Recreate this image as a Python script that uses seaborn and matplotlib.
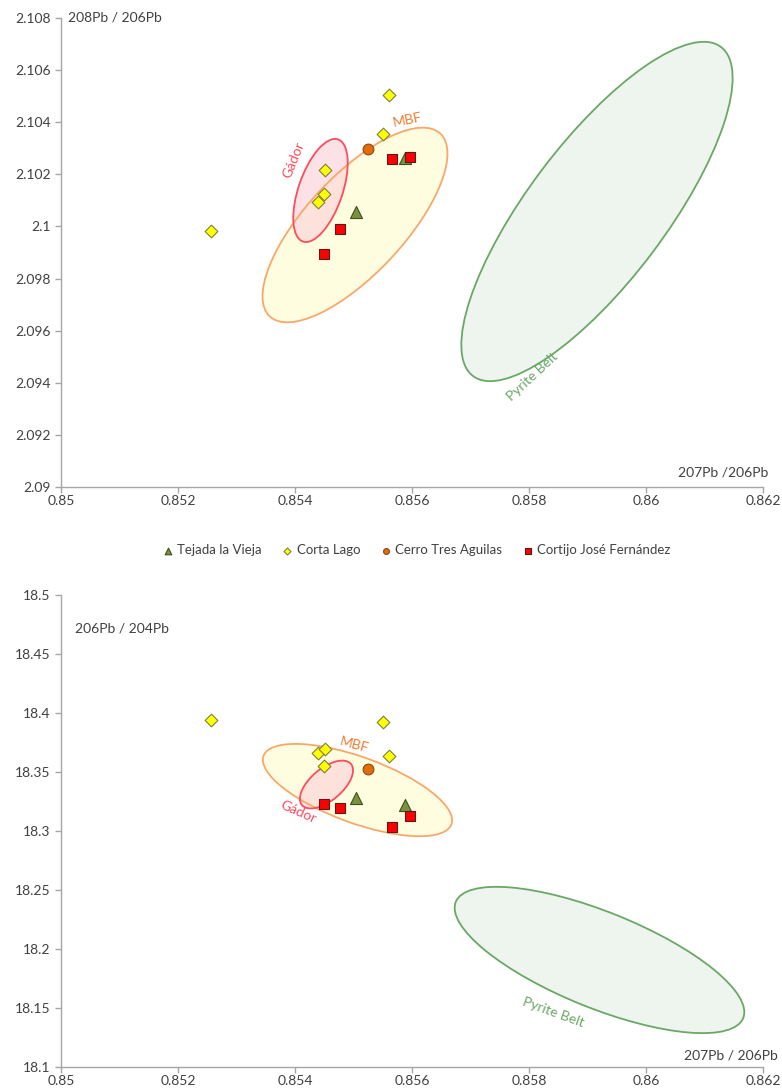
import pandas as pd
import seaborn as sns
import matplotlib.pyplot as plt
from matplotlib.patches import Ellipse
from matplotlib.transforms import ScaledTranslation
from matplotlib.ticker import FuncFormatter, MultipleLocator

# Datos (207Pb/206Pb, 208Pb/206Pb, 206Pb/204Pb)
sites = ['Tejada la Vieja', 'Corta Lago', 'Cerro Tres Aguilas', 'Cortijo José Fernández']

tejada_x = [0.85505, 0.85588]
tejada_208 = [2.10054, 2.10263]
tejada_204 = [18.3282, 18.3220]

corta_x = [0.85257, 0.85440, 0.85450, 0.85452, 0.85550, 0.85560]
corta_208 = [2.09983, 2.10094, 2.10125, 2.10217, 2.10355, 2.10505]
corta_204 = [18.3940, 18.3658, 18.3551, 18.3692, 18.3926, 18.3636]

cerro_x = [0.85525]
cerro_208 = [2.10298]
cerro_204 = [18.3523]

cortijo_x = [0.85450, 0.85477, 0.85566, 0.85596]
cortijo_208 = [2.09893, 2.09989, 2.10259, 2.10268]
cortijo_204 = [18.3229, 18.3192, 18.3037, 18.3125]

# estilo de cada yacimiento
markers = ['^', 'D', 'o', 's']
colors = ['#77933c', '#ffff00', '#e36c0a', '#ff0000']
edges = ['#3f4f1f', '#7f7f3f', '#8a4a10', '#5a1a1a']
sizes = [75, 42, 60, 60]

# campos de referencia: nombre, centro (datos), semiejes (px), ángulo
fields = ['Pyrite Belt', 'MBF', 'Gádor']
field_edge = ['#6aa865', '#f8a86a', '#ff4b5c']
field_text = ['#6aa865', '#ed7d31', '#ff4b5c']
field_fill = ['#eef5ee', '#fffde0', '#fbd0d8']
field_alpha = [1.0, 1.0, 0.6]

top_cx = [0.859162, 0.855026, 0.854436]
top_cy = [2.100574, 2.100056, 2.10138]
top_a = [206, 125, 54]
top_b = [69, 49, 22]
top_ang = [53, 47, 71]

bot_cx = [0.859205, 0.855068, 0.854538]
bot_cy = [18.1907, 18.3347, 18.3394]
bot_a = [155, 100, 32]
bot_b = [48, 33, 16]
bot_ang = [-22, -20, 40]

# etiquetas de los campos
top_lx = [0.85806, 0.85593, 0.85398]
top_ly = [2.09424, 2.10409, 2.10255]
top_rot = [43, 12, 68]
bot_lx = [0.85841, 0.85501, 0.85405]
bot_ly = [18.1466, 18.3729, 18.3161]
bot_rot = [-20, -15, -24]

sns.set_style('white')
plt.rcParams['font.family'] = ['Lato', 'DejaVu Sans']

fig = plt.figure(figsize=(7.82, 10.9), dpi=100)
ax1 = fig.add_axes([0.078, 0.5532, 0.8977, 0.4303])
ax2 = fig.add_axes([0.078, 0.0211, 0.8977, 0.4330])

xs = [tejada_x, corta_x, cerro_x, cortijo_x]
ys_top = [tejada_208, corta_208, cerro_208, cortijo_208]
ys_bot = [tejada_204, corta_204, cerro_204, cortijo_204]


def draw_fields(ax, cx, cy, a, b, ang, lx, ly, rot):
    for i in range(len(fields)):
        tr = fig.dpi_scale_trans + ScaledTranslation(cx[i], cy[i], ax.transData)
        e = Ellipse((0, 0), 2 * a[i] / 100, 2 * b[i] / 100, angle=ang[i],
                    transform=tr, facecolor=field_fill[i], alpha=field_alpha[i],
                    edgecolor='none', zorder=1)
        ax.add_patch(e)
        e2 = Ellipse((0, 0), 2 * a[i] / 100, 2 * b[i] / 100, angle=ang[i],
                     transform=tr, facecolor='none', edgecolor=field_edge[i],
                     lw=1.3, zorder=2)
        ax.add_patch(e2)
        ax.text(lx[i], ly[i], fields[i], color=field_text[i],
                rotation=rot[i], ha='center', va='center', fontsize=10,
                rotation_mode='anchor', zorder=2)


def draw_points(ax, ys):
    for i, s in enumerate(sites):
        df = pd.DataFrame({'x': xs[i], 'y': ys[i]})
        sns.scatterplot(data=df, x='x', y='y', ax=ax, marker=markers[i],
                        color=colors[i], edgecolor=edges[i], linewidth=0.8,
                        s=sizes[i], zorder=3, label=s, legend=False)


def style_axis(ax, ymin, ymax, ystep):
    ax.set_xlim(0.85, 0.862)
    ax.set_ylim(ymin, ymax)
    ax.xaxis.set_major_locator(MultipleLocator(0.002))
    ax.yaxis.set_major_locator(MultipleLocator(ystep))
    fmt = FuncFormatter(lambda v, p: '{:g}'.format(round(v, 4)))
    ax.xaxis.set_major_formatter(fmt)
    ax.yaxis.set_major_formatter(fmt)
    for side in ['top', 'right']:
        ax.spines[side].set_visible(False)
    for side in ['left', 'bottom']:
        ax.spines[side].set_color('#a6a6a6')
        ax.spines[side].set_linewidth(1.0)
    ax.tick_params(axis='both', direction='out', length=4, width=1,
                   color='#a6a6a6', labelcolor='#404040', labelsize=10,
                   left=True, bottom=True)
    ax.tick_params(axis='x', pad=2)
    ax.set_xlabel('')
    ax.set_ylabel('')


draw_fields(ax1, top_cx, top_cy, top_a, top_b, top_ang, top_lx, top_ly, top_rot)
draw_points(ax1, ys_top)
style_axis(ax1, 2.09, 2.108, 0.002)
ax1.text(0.01, 1.0, '208Pb / 206Pb', transform=ax1.transAxes, ha='left',
         va='center', fontsize=10, color='#404040')
ax1.text(1.007, 0.032, '207Pb /206Pb', transform=ax1.transAxes, ha='right',
         va='center', fontsize=10, color='#404040')

draw_fields(ax2, bot_cx, bot_cy, bot_a, bot_b, bot_ang, bot_lx, bot_ly, bot_rot)
draw_points(ax2, ys_bot)
style_axis(ax2, 18.1, 18.5, 0.05)
ax2.text(0.02, 0.93, '206Pb / 204Pb', transform=ax2.transAxes, ha='left',
         va='center', fontsize=10, color='#404040')
ax2.text(1.021, 0.025, '207Pb / 206Pb', transform=ax2.transAxes, ha='right',
         va='center', fontsize=10, color='#404040')

handles, labels = ax1.get_legend_handles_labels()
leg = fig.legend(handles, labels, loc='center', bbox_to_anchor=(0.533, 0.4954),
                 ncol=4, frameon=False, fontsize=9.5, markerscale=0.55,
                 handlelength=0.7, handletextpad=0.35, columnspacing=1.6)
for t in leg.get_texts():
    t.set_color('#404040')

fig.savefig('out.png', dpi=100)
